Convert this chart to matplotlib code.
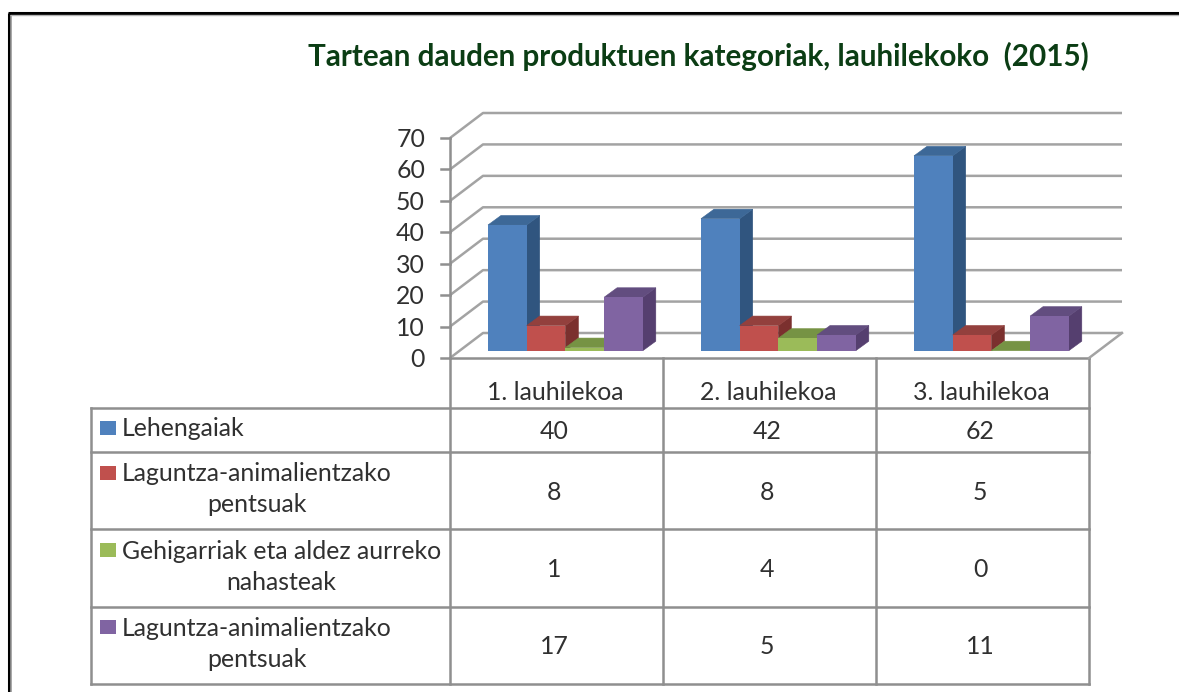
#plot.py
import matplotlib
matplotlib.use("Agg")
import matplotlib.pyplot as plt
from matplotlib.patches import Polygon, Rectangle

plt.rcParams['font.family'] = ['Lato', 'DejaVu Sans']

W = 1179
H = 692

title = "Tartean dauden produktuen kategoriak, lauhilekoko  (2015)"
categories = ["1. lauhilekoa", "2. lauhilekoa", "3. lauhilekoa"]
seriesNames = ["Lehengaiak",
               "Laguntza-animalientzako\npentsuak",
               "Gehigarriak eta aldez aurreko\nnahasteak",
               "Laguntza-animalientzako\npentsuak"]
lehengaiak = [40, 42, 62]
laguntza1 = [8, 8, 5]
gehigarriak = [1, 4, 0]
laguntza2 = [17, 5, 11]
yTicks = [0, 10, 20, 30, 40, 50, 60, 70]

seriesValues = [lehengaiak, laguntza1, gehigarriak, laguntza2]
frontColors = ['#4F81BD', '#C0504D', '#9BBB59', '#8064A2']
sideColors = ['#30557F', '#7B302E', '#627A38', '#553F6F']
topColors = ['#3D6897', '#93403D', '#769344', '#624D7F']

GRID = '#a3a3a3'
EDGE = '#8f8f8f'
TEXT = '#303030'
FS = 17.9
LW = 1.8

fig = plt.figure(figsize=(W/100, H/100), dpi=100, facecolor='white')

# overlay in pixel coordinates: frame, title and table
page = fig.add_axes([0, 0, 1, 1])
page.set_xlim(0, W)
page.set_ylim(H, 0)
page.axis('off')

# chart axes: x in categories, y in values
ax = fig.add_axes([450/W, (H-358)/H, 639/W, 220/H])
ax.set_xlim(0, 3)
ax.set_ylim(0, 70)
ax.axis('off')
ax.patch.set_alpha(0)

cellW = 213.0
unitY = 220.0/70
wallX = 33/cellW
wallY = 25/unitY
depthX = 13/cellW
depthY = 9.5/unitY
barW = 38.7/cellW
barStart = 38/cellW
floorY = 7.3/unitY

# walls and grid
for v in yTicks:
    ax.plot([0, wallX, 3 + wallX], [v, v + wallY, v + wallY], color=GRID,
            lw=LW, clip_on=False, zorder=1, solid_capstyle='butt')
    ax.plot([-9/cellW, 0], [v, v], color=EDGE, lw=LW, clip_on=False, zorder=2)
    ax.text(-25/cellW, v - 0.5, str(v), ha='right', va='center', fontsize=FS, color=TEXT)
ax.plot([0, 0], [0, 70], color=EDGE, lw=LW, clip_on=False, zorder=2)
ax.plot([3, 3 + wallX], [0, wallY], color=GRID, lw=LW, clip_on=False, zorder=2)

# bars
z = 3
for i in range(len(categories)):
    for s in range(len(seriesValues)):
        v = seriesValues[s][i]
        x0 = i + barStart + s*barW
        x1 = x0 + barW
        top = floorY + v
        side = [(x1, floorY), (x1 + depthX, floorY + depthY),
                (x1 + depthX, top + depthY), (x1, top)]
        roof = [(x0, top), (x0 + depthX, top + depthY),
                (x1 + depthX, top + depthY), (x1, top)]
        ax.add_patch(Polygon(side, closed=True, fc=sideColors[s], ec=sideColors[s],
                             lw=0.4, zorder=z, clip_on=False))
        ax.add_patch(Polygon(roof, closed=True, fc=topColors[s], ec=topColors[s],
                             lw=0.4, zorder=z, clip_on=False))
        ax.bar(x0, v, width=barW, bottom=floorY, align='edge',
               color=frontColors[s], zorder=z + 0.5, clip_on=False)
        z += 1

# frame of the page
page.plot([8.5, 8.5], [13, H], color='black', lw=2.2, solid_capstyle='butt')
page.plot([10.5, 10.5], [14, H], color='#9a9a9a', lw=1.2, solid_capstyle='butt')
page.plot([8, W], [12.5, 12.5], color='black', lw=2.2, solid_capstyle='butt')
page.plot([10, W], [14.5, 14.5], color='#b5b5b5', lw=1.0, solid_capstyle='butt')

page.text(698.5, 56, title, ha='center', va='center', fontsize=21.3,
          fontweight='bold', color='#0B3D14')

# data table
colX = [450, 663, 876, 1089]
rowY = [408, 452, 529, 607, 684]
keyY = [428, 473, 550, 627]
keyTextY = [429, 489, 567, 644]

for y in rowY:
    page.plot([91, 1089], [y, y], color=EDGE, lw=LW, solid_capstyle='projecting')
page.plot([91, 91], [408, 684], color=EDGE, lw=LW)
for x in colX:
    page.plot([x, x], [358, 684], color=EDGE, lw=LW)
page.plot([450, 1089], [358, 358], color=EDGE, lw=LW)

for c in range(len(categories)):
    cx = (colX[c] + colX[c + 1])/2
    page.text(cx - 1, 393, categories[c], ha='center', va='center',
              fontsize=FS, color=TEXT)
    for s in range(len(seriesValues)):
        page.text(cx - 2.5, (rowY[s] + rowY[s + 1])/2 + 1.5, str(seriesValues[s][c]),
                  ha='center', va='center', fontsize=FS, color=TEXT)

for s in range(len(seriesNames)):
    page.add_patch(Rectangle((100, keyY[s] - 7), 16, 14, fc=frontColors[s], ec='none'))
    page.text(122, keyTextY[s], seriesNames[s], ha='left', va='center', ma='center',
              fontsize=FS, color=TEXT, linespacing=1.4)

fig.savefig("out.png", dpi=100)
